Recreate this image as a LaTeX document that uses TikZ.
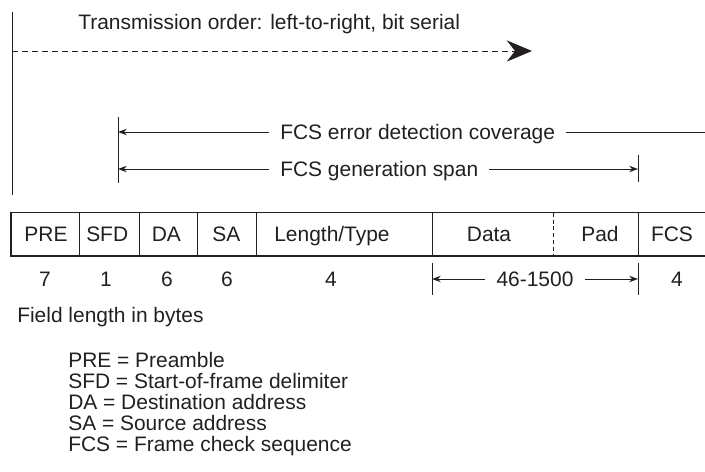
\documentclass[tikz,border=0pt]{standalone}
\usepackage{fontspec}
\setmainfont{Liberation Sans}
\usetikzlibrary{arrows.meta}
\definecolor{K}{RGB}{35, 31, 32}
\tikzset{
	lbl/.style={inner sep=0pt, text height=10.7pt, text depth=0pt, text=K,
		font=\fontsize{14.9}{18}\selectfont},
	spanlbl/.style={lbl, inner xsep=0.27cm},
	ln/.style={draw=K, line width=0.7pt},
	tip/.style={-{Stealth[length=0.22cm,width=0.16cm]}}
}
\begin{document}
\begin{tikzpicture}
	\useasboundingbox (0,0) rectangle (17.625,-11.8);

	%Orden de transmision
	\draw[ln] (0.3,-0.3) -- (0.3,-4.875);
	\node[lbl, anchor=west] (orden) at (1.95,-0.55) {Transmission order: left-to-right, bit serial};
	\coordinate (inicio) at (0.3,-1.275);
	\coordinate (fin) at (13.3,-1.275);
	\draw[ln, dash pattern=on 0.15cm off 0.1cm, -{Stealth[length=0.63cm,width=0.53cm]}] (inicio) -- (fin);

	%Cobertura y generacion del FCS
	\draw[ln] (2.95,-2.925) -- (2.95,-4.575);
	\draw[ln] (15.95,-3.875) -- (15.95,-4.55);
	\node[spanlbl, anchor=west] (cobertura) at (6.73,-3.3) {FCS error detection coverage};
	\node[spanlbl, anchor=west] (generacion) at (6.73,-4.225) {FCS generation span};
	\coordinate (cobI) at (2.95,-3.3);
	\coordinate (cobD) at (17.7,-3.3);
	\coordinate (genI) at (2.95,-4.225);
	\coordinate (genD) at (15.95,-4.225);
	\draw[ln, tip] (cobertura) -- (cobI);
	\draw[ln] (cobertura) -- (cobD);
	\draw[ln, tip] (generacion) -- (genI);
	\draw[ln, tip] (generacion) -- (genD);

	%Trama
	\draw[ln, line width=0.8pt] (17.7,-5.32) -- (0.275,-5.32) -- (0.275,-6.4) -- (17.7,-6.4);
	\draw[ln] (1.975,-5.32) -- (1.975,-6.4);
	\draw[ln] (3.475,-5.32) -- (3.475,-6.4);
	\draw[ln] (4.925,-5.32) -- (4.925,-6.4);
	\draw[ln] (6.4,-5.32) -- (6.4,-6.4);
	\draw[ln] (10.8,-5.32) -- (10.8,-6.4);
	\draw[ln, dash pattern=on 0.1cm off 0.07cm] (13.825,-5.32) -- (13.825,-6.4);
	\draw[ln] (15.95,-5.32) -- (15.95,-6.4);

	\node[lbl] (pre) at (1.15,-5.86) {PRE};
	\node[lbl] (sfd) at (2.68,-5.86) {SFD};
	\node[lbl] (da) at (4.16,-5.86) {DA};
	\node[lbl] (sa) at (5.66,-5.86) {SA};
	\node[lbl] (tipo) at (8.3,-5.86) {Length/Type};
	\node[lbl] (datos) at (12.225,-5.86) {Data};
	\node[lbl] (pad) at (15.0,-5.86) {Pad};
	\node[lbl] (fcs) at (16.8,-5.86) {FCS};

	%Longitudes
	\node[lbl] (nPre) at (1.125,-6.975) {7};
	\node[lbl] (nSfd) at (2.65,-6.975) {1};
	\node[lbl] (nDa) at (4.175,-6.975) {6};
	\node[lbl] (nSa) at (5.675,-6.975) {6};
	\node[lbl] (nTipo) at (8.275,-6.975) {4};
	\node[spanlbl] (nDatos) at (13.375,-6.975) {46-1500};
	\node[lbl] (nFcs) at (16.925,-6.975) {4};
	\draw[ln] (10.8,-6.575) -- (10.8,-7.375);
	\draw[ln] (15.95,-6.575) -- (15.95,-7.375);
	\coordinate (datI) at (10.8,-6.975);
	\coordinate (datD) at (15.95,-6.975);
	\draw[ln, tip] (nDatos) -- (datI);
	\draw[ln, tip] (nDatos) -- (datD);

	%Leyenda
	\node[lbl, anchor=west] (bytes) at (0.425,-7.875) {Field length in bytes};
	\node[lbl, anchor=west] (ley1) at (1.7,-9.0) {PRE = Preamble};
	\node[lbl, anchor=west] (ley2) at (1.7,-9.525) {SFD = Start-of-frame delimiter};
	\node[lbl, anchor=west] (ley3) at (1.7,-10.05) {DA = Destination address};
	\node[lbl, anchor=west] (ley4) at (1.7,-10.575) {SA = Source address};
	\node[lbl, anchor=west] (ley5) at (1.7,-11.1) {FCS = Frame check sequence};
\end{tikzpicture}
\end{document}
